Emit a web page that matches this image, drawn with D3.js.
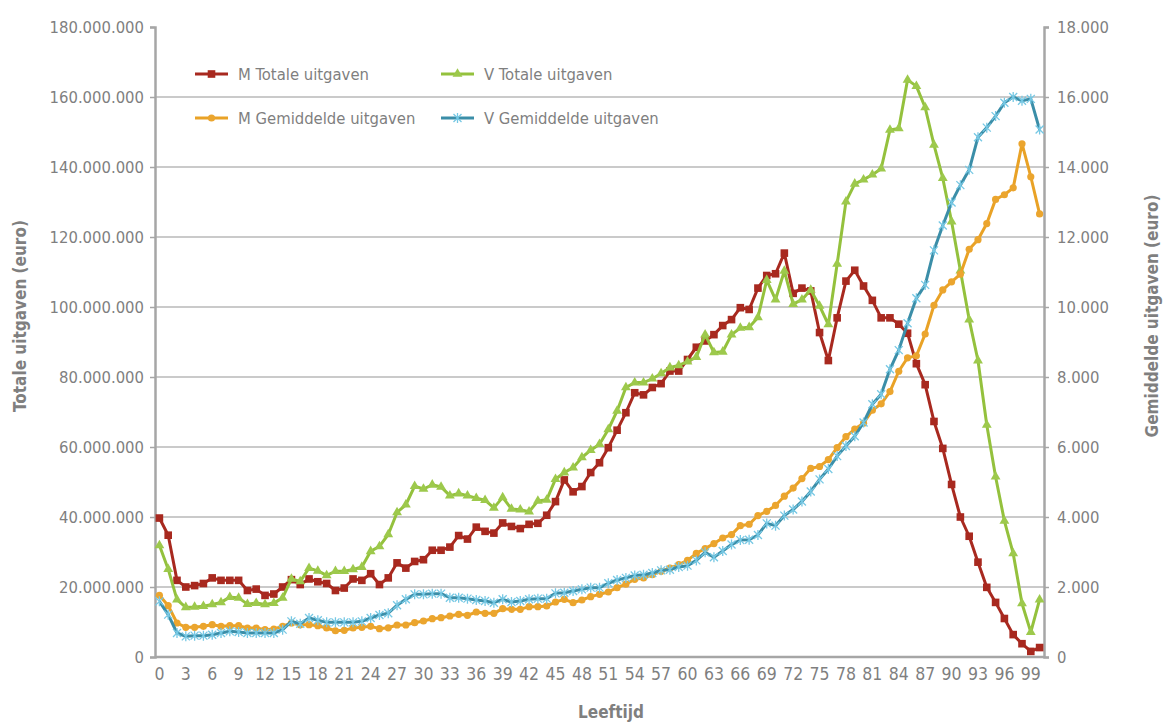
<!DOCTYPE html>
<html>
<head>
<meta charset="utf-8">
<script src="https://d3js.org/d3.v7.min.js"></script>
<style>
  body { margin: 0; background: #fff; }
  svg text { font-family: "DejaVu Sans Condensed", "DejaVu Sans", sans-serif; font-stretch: condensed; fill: #7f7f7f; }
</style>
</head>
<body>
<svg width="1169" height="722"></svg>
<script>
// ages 0..100
var ages = d3.range(0, 101);
var ageTicks = d3.range(0, 100, 3);

// M Totale uitgaven (millions of euro)
var mTotaal = [39.7, 34.8, 21.9, 20.0, 20.4, 21.0, 22.6, 21.9, 21.9, 21.9,
  19.0, 19.4, 17.6, 18.0, 20.0, 22.1, 20.7, 22.3, 21.5, 21.0,
  19.0, 19.7, 22.3, 21.9, 23.8, 20.7, 22.6, 26.9, 25.4, 27.3,
  27.8, 30.5, 30.5, 31.4, 34.7, 33.7, 37.1, 35.9, 35.4, 38.3,
  37.3, 36.7, 37.9, 38.2, 40.5, 44.4, 50.6, 47.2, 48.7, 52.7,
  55.5, 59.8, 64.8, 69.8, 75.5, 74.9, 77.0, 78.1, 81.7, 81.7,
  85.0, 88.5, 90.3, 92.1, 94.7, 96.4, 99.8, 99.3, 105.4, 109.0,
  109.5, 115.4, 103.9, 105.4, 104.6, 92.7, 84.7, 96.9, 107.4, 110.5,
  106.0, 101.9, 96.9, 96.9, 95.1, 92.5, 83.8, 77.8, 67.3, 59.6,
  49.3, 40.0, 34.5, 27.1, 19.9, 15.6, 11.0, 6.4, 3.8, 1.6, 2.7];

// V Totale uitgaven (millions of euro)
var vTotaal = [31.9, 25.1, 16.4, 14.2, 14.3, 14.5, 15.0, 15.6, 17.1, 16.9,
  15.1, 15.4, 15.0, 15.4, 16.9, 22.3, 21.6, 25.4, 24.6, 23.3,
  24.5, 24.5, 25.0, 25.7, 30.2, 31.6, 35.0, 41.3, 43.5, 48.8,
  48.0, 49.2, 48.6, 46.1, 46.7, 46.1, 45.4, 44.8, 42.6, 45.6,
  42.3, 42.1, 41.5, 44.6, 44.9, 50.8, 52.7, 54.1, 57.0, 59.1,
  60.8, 65.0, 70.3, 77.0, 78.4, 78.4, 79.5, 81.0, 82.7, 83.3,
  84.4, 85.7, 92.1, 87.0, 87.2, 92.1, 94.0, 94.2, 97.0, 107.7,
  102.1, 110.3, 100.8, 102.1, 104.9, 100.3, 95.0, 112.3, 130.1, 135.2,
  136.4, 137.8, 139.5, 150.6, 151.0, 164.9, 163.1, 157.0, 146.3, 136.8,
  124.4, 110.4, 96.4, 84.7, 66.3, 51.5, 38.9, 29.6, 15.3, 7.1, 16.4];

// M Gemiddelde uitgaven (euro)
var mGemiddeld = [1762, 1467, 971, 848, 848, 876, 924, 876, 895, 895,
  829, 829, 781, 800, 876, 971, 924, 924, 895, 830,
  750, 762, 829, 848, 876, 810, 835, 914, 914, 981,
  1029, 1095, 1124, 1171, 1219, 1190, 1286, 1248, 1248, 1381,
  1362, 1362, 1438, 1438, 1457, 1571, 1648, 1552, 1629, 1724,
  1790, 1857, 1981, 2080, 2220, 2257, 2352, 2448, 2543, 2638,
  2760, 2960, 3100, 3240, 3400, 3497, 3753, 3793, 4040, 4162,
  4330, 4595, 4827, 5097, 5390, 5443, 5640, 5985, 6295, 6511,
  6680, 7050, 7234, 7584, 8165, 8549, 8604, 9228, 10050, 10489,
  10719, 10938, 11650, 11924, 12385, 13075, 13207, 13404, 14665, 13722, 12659];

// V Gemiddelde uitgaven (euro)
var vGemiddeld = [1590, 1210, 686, 590, 610, 610, 638, 686, 733, 714,
  686, 686, 686, 686, 781, 1019, 952, 1114, 1048, 990,
  990, 990, 990, 1019, 1114, 1200, 1250, 1480, 1648, 1790,
  1790, 1810, 1810, 1695, 1695, 1667, 1629, 1600, 1552, 1648,
  1571, 1600, 1648, 1667, 1667, 1819, 1838, 1886, 1933, 1981,
  1981, 2105, 2200, 2260, 2330, 2352, 2400, 2476, 2495, 2571,
  2610, 2760, 2990, 2850, 3030, 3212, 3340, 3350, 3487, 3817,
  3753, 4040, 4212, 4444, 4730, 5075, 5371, 5740, 6028, 6308,
  6700, 7220, 7508, 8220, 8768, 9535, 10248, 10631, 11618, 12330,
  12988, 13481, 13919, 14851, 15125, 15454, 15837, 16002, 15892, 15947, 15070];

var leftTicks = d3.range(0, 180000001, 20000000);
var rightTicks = d3.range(0, 18001, 2000);

var nl = d3.formatLocale({decimal: ",", thousands: ".", grouping: [3], currency: ["", ""]});
var fmt = nl.format(",");

var svg = d3.select("svg");
var plotLeft = 155, plotRight = 1044, plotTop = 27, plotBottom = 657;

var x = d3.scaleBand().domain(ages).range([plotLeft, plotRight]);
var yL = d3.scaleLinear().domain([0, 180000000]).range([plotBottom, plotTop]);
var yR = d3.scaleLinear().domain([0, 18000]).range([plotBottom, plotTop]);
var cx = function (a) { return x(a) + x.bandwidth() / 2; };

// gridlines
svg.append("g").selectAll("line")
  .data(leftTicks.filter(function (d) { return d > 0 && d < 180000000; }))
  .enter().append("line")
  .attr("x1", plotLeft).attr("x2", plotRight)
  .attr("y1", function (d) { return yL(d); }).attr("y2", function (d) { return yL(d); })
  .attr("stroke", "#b8b8b8").attr("stroke-width", 1.5);

// axes
var axL = svg.append("g").attr("transform", "translate(" + plotLeft + ",0)")
  .call(d3.axisLeft(yL).tickValues(leftTicks).tickFormat(fmt).tickSize(5).tickPadding(6));
var axR = svg.append("g").attr("transform", "translate(" + plotRight + ",0)")
  .call(d3.axisRight(yR).tickValues(rightTicks).tickFormat(fmt).tickSize(5).tickPadding(8));
var axB = svg.append("g").attr("transform", "translate(0," + plotBottom + ")")
  .call(d3.axisBottom(x).tickValues(ageTicks).tickSize(0).tickPadding(11));

[axL, axR, axB].forEach(function (ax) {
  ax.selectAll("path.domain").attr("stroke", "#a6a6a6").attr("stroke-width", 2.5);
  ax.selectAll(".tick line").attr("stroke", "#a6a6a6").attr("stroke-width", 1.5);
  ax.selectAll("text").attr("fill", "#7f7f7f").style("font-size", "16.5px");
});
axB.select("path.domain").attr("d", "M" + plotLeft + ",0H" + plotRight);
axB.selectAll("text").style("font-size", "17.5px");

// axis titles
svg.append("text").attr("transform", "translate(26,316) rotate(-90)")
  .attr("text-anchor", "middle").style("font-size", "17px").style("font-weight", "bold")
  .text("Totale uitgaven (euro)");
svg.append("text").attr("transform", "translate(1158,316) rotate(-90)")
  .attr("text-anchor", "middle").style("font-size", "17px").style("font-weight", "bold")
  .text("Gemiddelde uitgaven (euro)");
svg.append("text").attr("x", 611).attr("y", 718)
  .attr("text-anchor", "middle").style("font-size", "17px").style("font-weight", "bold")
  .text("Leeftijd");

// marker shapes
var asterisk = "M-4,-4L4,4M-4,4L4,-4M0,-5L0,5";
var series = [
  {name: "M Totale uitgaven", values: mTotaal.map(function (v) { return v * 1e6; }), y: yL,
   line: "#a8291f", mark: "square", mcolor: "#a8291f"},
  {name: "V Totale uitgaven", values: vTotaal.map(function (v) { return v * 1e6; }), y: yL,
   line: "#94c13d", mark: "triangle", mcolor: "#9dc94c"},
  {name: "M Gemiddelde uitgaven", values: mGemiddeld, y: yR,
   line: "#e9a226", mark: "circle", mcolor: "#eba52e"},
  {name: "V Gemiddelde uitgaven", values: vGemiddeld, y: yR,
   line: "#3b8ea8", mark: "asterisk", mcolor: "#76c8e4"}
];

function drawMarker(g, s) {
  if (s.mark === "square") {
    g.append("rect").attr("x", -3.8).attr("y", -3.8).attr("width", 7.6).attr("height", 7.6).attr("fill", s.mcolor);
  } else if (s.mark === "triangle") {
    g.append("path").attr("d", d3.symbol(d3.symbolTriangle, 42)()).attr("fill", s.mcolor);
  } else if (s.mark === "circle") {
    g.append("circle").attr("r", 3.6).attr("fill", s.mcolor);
  } else {
    g.append("path").attr("d", asterisk).attr("stroke", s.mcolor).attr("stroke-width", 1.3).attr("fill", "none");
  }
}

series.forEach(function (s) {
  var line = d3.line().x(function (d, i) { return cx(ages[i]); }).y(function (d) { return s.y(d); });
  svg.append("path").datum(s.values).attr("d", line)
    .attr("fill", "none").attr("stroke", s.line).attr("stroke-width", 3).attr("stroke-linejoin", "round");
  svg.append("g").selectAll("g").data(s.values).enter().append("g")
    .attr("transform", function (d, i) { return "translate(" + cx(ages[i]) + "," + s.y(d) + ")"; })
    .each(function () { drawMarker(d3.select(this), s); });
});

// legend
var legPos = [[195, 74], [441, 74], [195, 118], [441, 118]];
series.forEach(function (s, i) {
  var p = legPos[i];
  var g = svg.append("g").attr("transform", "translate(" + p[0] + "," + p[1] + ")");
  g.append("line").attr("x1", 0).attr("x2", 33).attr("stroke", s.line).attr("stroke-width", 3);
  var m = g.append("g").attr("transform", "translate(16.5,0)");
  drawMarker(m, s);
  g.append("text").attr("x", 43).attr("y", 6).style("font-size", "16.5px").text(s.name);
});
</script>
</body>
</html>
